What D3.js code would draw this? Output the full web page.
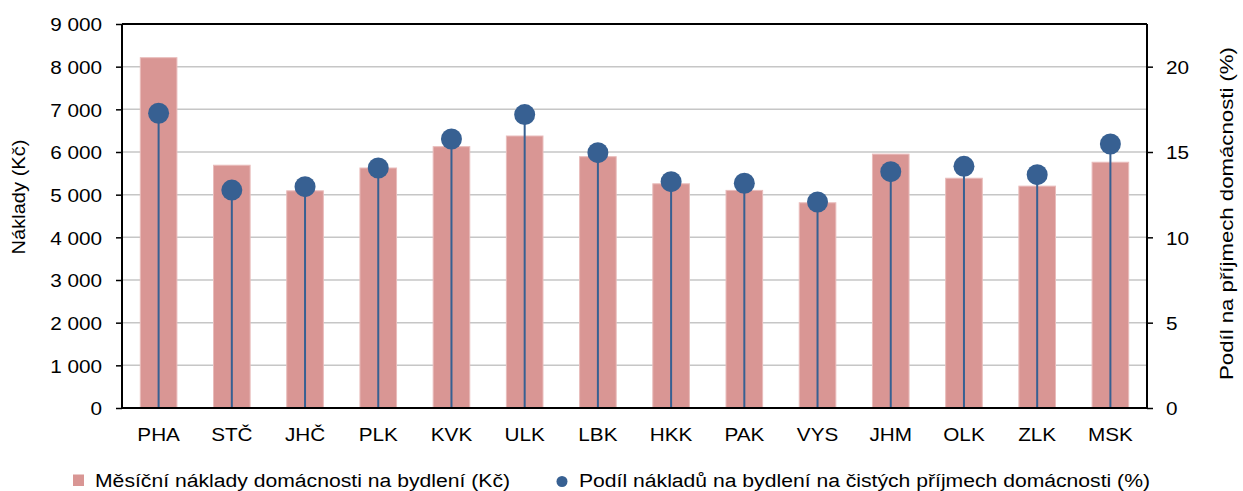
<!DOCTYPE html>
<html><head><meta charset="utf-8">
<script src="https://cdn.jsdelivr.net/npm/d3@7/dist/d3.min.js"></script>
<style>body{margin:0;background:#fff;} text{font-family:"Liberation Sans",Arial,sans-serif;fill:#000;}</style>
</head><body><svg id="c" width="1243" height="491"></svg>
<script>
const categories = ["PHA","STČ","JHČ","PLK","KVK","ULK","LBK","HKK","PAK","VYS","JHM","OLK","ZLK","MSK"];
const costs = [8210,5690,5090,5625,6125,6375,5890,5255,5100,4810,5950,5385,5200,5760];
const shares = [17.27,12.77,12.97,14.06,15.76,17.19,14.96,13.26,13.17,12.07,13.85,14.16,13.67,15.47];
const leftTicks = [0,1000,2000,3000,4000,5000,6000,7000,8000,9000];
const rightTicks = [0,5,10,15,20];
const legendLabels = ["Měsíční náklady domácnosti na bydlení (Kč)","Podíl nákladů na bydlení na čistých příjmech domácnosti (%)"];

const svg = d3.select("#c");
const L=122, R=1147, T=24, B=408;
const FS=18, SX=1.15;
const FONT="Liberation Sans, Arial, sans-serif";
const x = d3.scaleBand().domain(categories).range([L,R]).paddingInner(0.5).paddingOuter(0.25);
const yL = d3.scaleLinear().domain([0,9000]).range([B,T]);
const yR = d3.scaleLinear().domain([0,22.5]).range([B,T]);
const fmt = d => d3.format(",")(d).replace(/,/g," ");
function stretch(sel, f, target){
  sel.each(function(){
    const w = this.getComputedTextLength();
    this.setAttribute("textLength", target ? target : w*f);
    this.setAttribute("lengthAdjust","spacingAndGlyphs");
  });
}

// gridlines
svg.append("g").selectAll("line").data(leftTicks.slice(1,-1)).join("line")
  .attr("x1",L).attr("x2",R).attr("y1",d=>yL(d)).attr("y2",d=>yL(d))
  .attr("stroke","#c6c6c6").attr("stroke-width",1.5);

// bars
svg.append("g").selectAll("rect").data(costs).join("rect")
  .attr("x",(d,i)=>x(categories[i])).attr("width",x.bandwidth())
  .attr("y",d=>yL(d)).attr("height",d=>B-yL(d))
  .attr("fill","#d99694").attr("stroke","#e9bcbb").attr("stroke-width",1);

// stems & dots
const cx = i => x(categories[i]) + x.bandwidth()/2;
svg.append("g").selectAll("line").data(shares).join("line")
  .attr("x1",(d,i)=>cx(i)).attr("x2",(d,i)=>cx(i)).attr("y1",B).attr("y2",d=>yR(d))
  .attr("stroke","#376092").attr("stroke-width",2);
svg.append("g").selectAll("circle").data(shares).join("circle")
  .attr("cx",(d,i)=>cx(i)).attr("cy",d=>yR(d)).attr("r",10.5)
  .attr("fill","#376092");

// axes
const axL = svg.append("g").attr("transform",`translate(${L},0)`)
  .call(d3.axisLeft(yL).tickValues(leftTicks).tickFormat(fmt).tickSize(6));
const axR = svg.append("g").attr("transform",`translate(${R},0)`)
  .call(d3.axisRight(yR).tickValues(rightTicks).tickSize(6));
[axL,axR].forEach(a=>{
  a.select(".domain").remove();
  a.selectAll(".tick line").attr("stroke","#000").attr("stroke-width",1.5);
  a.selectAll("text").attr("font-size",FS).attr("font-family",FONT).attr("dy",null).attr("y",6.8);
});
axL.selectAll("text").attr("x",-20);
axR.selectAll("text").attr("x",19);
stretch(axL.selectAll("text"),SX);
stretch(axR.selectAll("text"),SX);

const axX = svg.append("g").attr("transform",`translate(0,${B})`)
  .call(d3.axisBottom(x).tickSize(0));
axX.select(".domain").remove();
axX.selectAll("text").attr("font-size",FS).attr("font-family",FONT).attr("dy",null).attr("y",33);
stretch(axX.selectAll("text"),SX);

// frame lines
[[L,L,T,B],[R,R,T,B],[L,R,T,T],[L,R,B,B]].forEach(c=>
  svg.append("line").attr("x1",c[0]).attr("x2",c[1]).attr("y1",c[2]).attr("y2",c[3])
    .attr("stroke","#000").attr("stroke-width",2));

// axis titles
const t1 = svg.append("text").attr("transform",`translate(25,197) rotate(-90)`)
  .attr("text-anchor","middle").attr("font-size",19).text("Náklady (Kč)");
stretch(t1,0,115);
const t2 = svg.append("text").attr("transform",`translate(1233,213.5) rotate(-90)`)
  .attr("text-anchor","middle").attr("font-size",19).text("Podíl na příjmech domácnosti (%)");
stretch(t2,0,333);

// legend
const lg = svg.append("g");
lg.append("rect").attr("x",73).attr("y",474.5).attr("width",11).attr("height",11.5).attr("fill","#d99694");
const l1 = lg.append("text").attr("x",95).attr("y",487).attr("font-size",FS).text(legendLabels[0]);
stretch(l1,0,415);
lg.append("circle").attr("cx",562).attr("cy",481.5).attr("r",5.5).attr("fill","#376092");
const l2 = lg.append("text").attr("x",579).attr("y",487).attr("font-size",FS).text(legendLabels[1]);
stretch(l2,0,571);
</script></body></html>
